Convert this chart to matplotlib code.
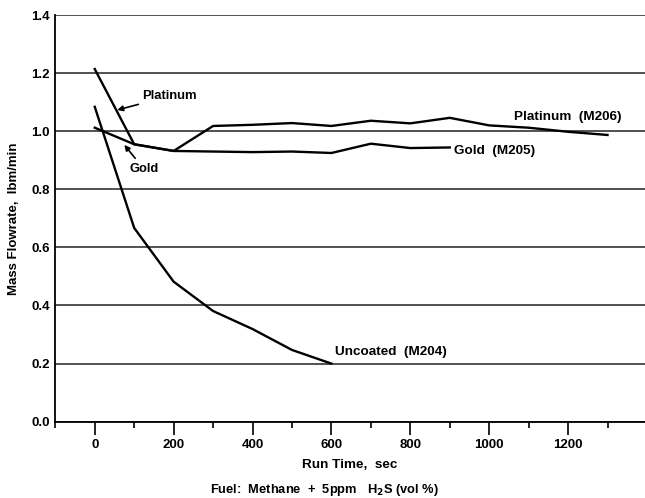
import matplotlib
matplotlib.use("Agg")
import matplotlib.pyplot as plt
from matplotlib.ticker import MultipleLocator

plt.rcParams['font.family'] = ['Liberation Sans', 'DejaVu Sans']
plt.rcParams['font.weight'] = 'bold'

# Data
uncoated_x = [0, 100, 200, 300, 400, 500, 600]
uncoated_y = [1.084, 0.667, 0.482, 0.381, 0.319, 0.247, 0.200]

gold_x = [0, 100, 200, 300, 400, 500, 600, 700, 800, 900]
gold_y = [1.012, 0.955, 0.932, 0.930, 0.928, 0.930, 0.925, 0.957, 0.942, 0.944]

platinum_x = [0, 100, 200, 300, 400, 500, 600, 700, 800, 900, 1000, 1100, 1200, 1300]
platinum_y = [1.214, 0.955, 0.932, 1.018, 1.022, 1.028, 1.018, 1.036, 1.027, 1.046,
              1.020, 1.012, 0.998, 0.987]

x_ticks = [0, 200, 400, 600, 800, 1000, 1200]
y_ticks = [0.0, 0.2, 0.4, 0.6, 0.8, 1.0, 1.2, 1.4]

fig = plt.figure(figsize=(6.45, 4.98), dpi=100)
ax = fig.add_axes([55.3 / 645, 1 - 421.7 / 498, (645 - 55.3) / 645, (421.7 - 15) / 498])

for y in y_ticks:
    ax.axhline(y, color='#222222', lw=1.1, zorder=1)

ax.plot(uncoated_x, uncoated_y, color='black', lw=1.7, zorder=3)
ax.plot(gold_x, gold_y, color='black', lw=1.7, zorder=3)
ax.plot(platinum_x, platinum_y, color='black', lw=1.7, zorder=3)

ax.set_xlim(-100, 1395)
ax.set_ylim(0, 1.4)
ax.set_xticks(x_ticks)
ax.xaxis.set_minor_locator(MultipleLocator(100))
ax.set_yticks(y_ticks)
ax.set_yticklabels([f"{v:.1f}" for v in y_ticks])

for s in ['top', 'right']:
    ax.spines[s].set_visible(False)
ax.spines['left'].set_linewidth(1.3)
ax.spines['bottom'].set_linewidth(1.3)

ax.tick_params(axis='x', which='major', direction='out', length=9.5, width=1.2, pad=3, labelsize=9.5)
ax.tick_params(axis='x', which='minor', direction='out', length=4.5, width=1.2)
ax.tick_params(axis='y', length=0, pad=4, labelsize=9.5)

ax.set_xlabel("Run Time,  sec", fontsize=9.7, fontweight='bold', labelpad=6)
ax.set_ylabel("Mass Flowrate,  lbm/min", fontsize=9.5, fontweight='bold', labelpad=8)

fig.text(0.503, 1 - 490 / 498, "Fuel:  Methane  +  5ppm   H$_\\mathbf{2}$S (vol %)",
         ha='center', va='center', fontsize=9.3, fontweight='bold')

ax.annotate("Platinum", xy=(57, 1.073), xytext=(121, 1.121),
            fontsize=9.4, fontweight='bold', va='center', ha='left',
            arrowprops=dict(arrowstyle='-|>', color='black', lw=1.2, shrinkA=1, shrinkB=0,
                            mutation_scale=8))
ax.annotate("Gold", xy=(75, 0.953), xytext=(88, 0.869),
            fontsize=9.4, fontweight='bold', va='center', ha='left',
            arrowprops=dict(arrowstyle='-|>', color='black', lw=1.2, shrinkA=2, shrinkB=0,
                            mutation_scale=8))

ax.text(1062, 1.05, "Platinum  (M206)", fontsize=9.7, fontweight='bold', va='center', ha='left')
ax.text(911, 0.932, "Gold  (M205)", fontsize=9.7, fontweight='bold', va='center', ha='left')
ax.text(608, 0.241, "Uncoated  (M204)", fontsize=9.7, fontweight='bold', va='center', ha='left')

fig.savefig("out.png", dpi=100)
